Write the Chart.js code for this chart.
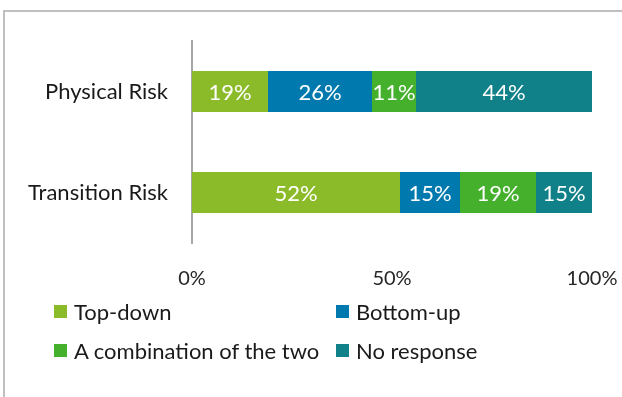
<!DOCTYPE html>
<html>
<head>
<meta charset="utf-8">
<script src="https://cdn.jsdelivr.net/npm/chart.js@4.4.1/dist/chart.umd.min.js"></script>
<style>
  html, body { margin: 0; padding: 0; background: #fff; }
  #wrap { position: relative; width: 622px; height: 397px; overflow: hidden; }
  #frame {
    position: absolute; left: 3px; top: 10px; width: 700px; height: 500px;
    border-top: 2px solid #bfbfbf; border-left: 2px solid #bfbfbf;
  }
  #chartBox { position: absolute; left: 0; top: 0; width: 622px; height: 397px; }
  #legend {
    position: absolute; left: 54px; top: 292px; margin: 0; padding: 0;
    list-style: none; display: grid; grid-template-columns: 282px 282px;
    grid-auto-rows: 39px; font-family: Lato, "Noto Sans", sans-serif;
    font-size: 22px; color: #1a1a1a;
  }
  #legend li { display: flex; align-items: center; white-space: nowrap; }
  #legend span.box { width: 13px; height: 13px; margin-right: 7px; display: inline-block; }
</style>
</head>
<body>
<div id="wrap">
  <div id="frame"></div>
  <div id="chartBox"><canvas id="riskChart"></canvas></div>
  <ul id="legend"></ul>
</div>
<script>
const categories = ["Physical Risk", "Transition Risk"];
const seriesNames = ["Top-down", "Bottom-up", "A combination of the two", "No response"];
const topDown = [19, 52];
const bottomUp = [26, 15];
const combination = [11, 19];
const noResponse = [44, 15];
const xTicks = [0, 50, 100];

const colors = ["#8bbb29", "#007aae", "#44b02c", "#108089"];
const values = [topDown, bottomUp, combination, noResponse];

// white percentage text in the middle of each visible segment
const barLabels = {
  id: "barLabels",
  afterDatasetsDraw(chart) {
    const { ctx, chartArea } = chart;
    ctx.save();
    ctx.font = "22px Lato, 'Noto Sans', sans-serif";
    ctx.fillStyle = "#ffffff";
    ctx.textAlign = "center";
    ctx.textBaseline = "middle";
    chart.data.datasets.forEach((ds, i) => {
      chart.getDatasetMeta(i).data.forEach((bar, j) => {
        const right = Math.min(bar.x, chartArea.right);
        const cx = (bar.base + right) / 2;
        ctx.fillText(ds.data[j] + "%", cx, bar.y + 1);
      });
    });
    ctx.restore();
  }
};

const chart = new Chart(document.getElementById("riskChart"), {
  type: "bar",
  data: {
    labels: categories,
    datasets: seriesNames.map((name, i) => ({
      label: name,
      data: values[i],
      backgroundColor: colors[i],
      borderWidth: 0,
      categoryPercentage: 1,
      barPercentage: 0.406
    }))
  },
  options: {
    indexAxis: "y",
    responsive: true,
    maintainAspectRatio: false,
    animation: false,
    layout: { padding: { left: 0, top: 41, right: 30, bottom: 110 } },
    plugins: { legend: { display: false }, tooltip: { enabled: false } },
    scales: {
      x: {
        stacked: true,
        min: 0,
        max: 100,
        afterBuildTicks: (scale) => { scale.ticks = xTicks.map(v => ({ value: v })); },
        afterFit: (scale) => {
          scale.height = 44;
          scale.paddingLeft = 0;
          scale.paddingRight = 0;
        },
        grid: { display: false },
        border: { display: false },
        ticks: {
          padding: 16,
          color: "#262626",
          font: { family: "Lato, 'Noto Sans', sans-serif", size: 20 },
          callback: (v) => v + "%"
        }
      },
      y: {
        stacked: true,
        afterFit: (scale) => { scale.width = 192; },
        grid: { display: true, drawOnChartArea: false, drawTicks: false },
        border: { display: true, color: "#a6a6a6", width: 2 },
        ticks: {
          padding: 24,
          color: "#1a1a1a",
          font: { family: "Lato, 'Noto Sans', sans-serif", size: 22 }
        }
      }
    }
  },
  plugins: [barLabels]
});

// legend laid out in two columns under the plot
const legendEl = document.getElementById("legend");
chart.data.datasets.forEach((ds) => {
  const li = document.createElement("li");
  const box = document.createElement("span");
  box.className = "box";
  box.style.background = ds.backgroundColor;
  li.appendChild(box);
  li.appendChild(document.createTextNode(ds.label));
  legendEl.appendChild(li);
});
</script>
</body>
</html>
